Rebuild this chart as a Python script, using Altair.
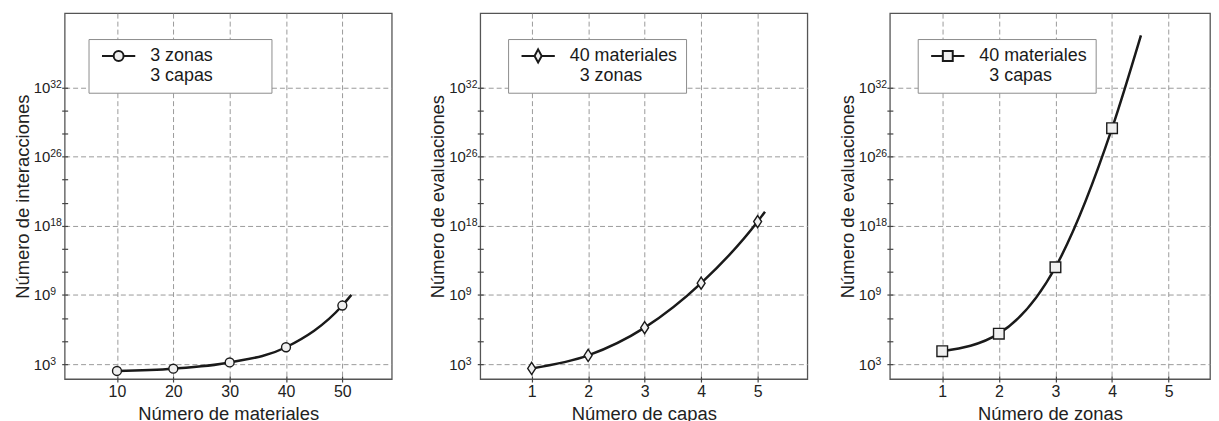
import json
import altair as alt
import pandas as pd

FONT = "Liberation Sans"
INK = "#1a1a1a"

# ---- data (y = position in axis units; 3 units per major grid step) ----
materiales = [10, 20, 30, 40, 50]
interacciones = [-0.30, -0.20, 0.07, 0.73, 2.54]
fin_materiales = [51.6]
fin_interacciones = [3.0]

capas = [1, 2, 3, 4, 5]
evaluaciones_capas = [-0.19, 0.375, 1.58, 3.51, 6.18]
fin_capas = [5.13]
fin_evaluaciones_capas = [6.61]

zonas = [1, 2, 3, 4]
evaluaciones_zonas = [0.56, 1.32, 4.20, 10.23]
fin_zonas = [4.51]
fin_evaluaciones_zonas = [14.26]

y_tick_base = "10"
y_tick_exponents = ["3", "9", "18", "26", "32"]
y_major_values = [0, 3, 6, 9, 12]
y_minor_values = list(range(0, 13))

NB = "\u00a0"   # no-break space
IS = "\u2063"   # invisible separator, keeps the spaces from being trimmed
serie1 = "3 zonas" + NB * 10 + IS + "|3 capas"
serie2 = "40 materiales|" + IS + NB * 2 + "3 zonas"
serie3 = "40 materiales|" + IS + NB * 2 + "3 capas"

exp_expr = json.dumps(y_tick_exponents) + "[round(datum.value / 3)]"
base_expr = "datum.value % 3 === 0 ? '" + y_tick_base + "' : ''"

# legend symbols: nominal 12px box (units of 6px), drawn to the right of it
CIRCLE_LEG = ("M-0.58,0H1.38M3.04,0H5"
              "M3.04,0A0.83,0.83 0 1 1 1.38,0A0.83,0.83 0 1 1 3.04,0Z")
DIAMOND_LEG = ("M-0.58,0H1.6M2.8,0H5"
               "M2.2,-1.1L2.8,0L2.2,1.1L1.6,0Z")
SQUARE_LEG = ("M-0.58,0H1.38M3.04,0H5"
              "M1.38,-0.83H3.04V0.83H1.38Z")
DIAMOND = "M0,-1L0.65,0L0,1L-0.65,0Z"


def panel(xs, ys, xe, ye, serie, xdomain, xticks, width, xtitle, ytitle,
          shape, size, leg_shape, leg_x):
    pts = pd.DataFrame({"x": xs, "y": ys, "serie": serie})
    curve = pd.DataFrame({"x": xs + xe, "y": ys + ye, "serie": serie})
    xscale = alt.Scale(domain=xdomain, nice=False, zero=False)
    yscale = alt.Scale(domain=[-0.65, 15.22], nice=False, zero=False)

    x_grid = alt.X("x:Q", scale=xscale,
                   axis=alt.Axis(orient="bottom", values=xticks, grid=True, ticks=False,
                                 tickSize=0, labels=False, domain=False, title=None,
                                 offset=0))
    y_grid = alt.Y("y:Q", scale=yscale,
                   axis=alt.Axis(orient="left", values=y_major_values, grid=True,
                                 ticks=False, tickSize=0, domain=False, title=None,
                                 offset=0, labelExpr=exp_expr, labelAlign="left",
                                 labelPadding=15, labelFontSize=10.5, labelOffset=-3))
    x_main = alt.X("x:Q", scale=xscale,
                   axis=alt.Axis(orient="bottom", values=xticks, grid=False, ticks=True,
                                 tickSize=6, domain=False, offset=-3, title=xtitle,
                                 labelFontSize=16, labelPadding=2, titlePadding=5))
    y_main = alt.Y("y:Q", scale=yscale,
                   axis=alt.Axis(orient="left", values=y_minor_values, grid=False,
                                 ticks=True, tickSize=6, domain=False, offset=-3,
                                 labelExpr=base_expr, labelAlign="right",
                                 labelPadding=12, labelFontSize=15,
                                 title=ytitle, titlePadding=1))

    legend = alt.Legend(orient="none", legendX=leg_x, legendY=26, title=None,
                        fillColor="white", strokeColor="#8c8c8c", padding=8,
                        symbolType=leg_shape, symbolSize=144,
                        symbolStrokeWidth=2, symbolStrokeColor=INK,
                        symbolFillColor="#eeeeee", symbolOpacity=1,
                        labelFont=FONT, labelFontSize=18, labelColor=INK,
                        labelOffset=36, labelLimit=400,
                        labelExpr="split(datum.label, '|')")
    color = alt.Color("serie:N", scale=alt.Scale(range=[INK]), legend=legend)

    line = alt.Chart(curve).mark_line(interpolate="monotone", strokeWidth=2.5,
                                      clip=True).encode(x=x_grid, y=y_grid, color=color)
    marks = alt.Chart(pts).mark_point(shape=shape, size=size, filled=False,
                                      fill="#f0f0f0", fillOpacity=1, opacity=1,
                                      strokeWidth=1.4).encode(x=x_main, y=y_main,
                                                              color=color)
    return alt.layer(line, marks).resolve_axis(x="independent", y="independent") \
        .properties(width=width, height=368)


p1 = panel(materiales, interacciones, fin_materiales, fin_interacciones, serie1,
           [0.72, 58.77], [10, 20, 30, 40, 50], 329,
           "Número de materiales", "Número de interacciones", "circle", 80,
           CIRCLE_LEG, 24)
p2 = panel(capas, evaluaciones_capas, fin_capas, fin_evaluaciones_capas, serie2,
           [0.09, 5.88], [1, 2, 3, 4, 5], 329,
           "Número de capas", "Número de evaluaciones", DIAMOND, 150, DIAMOND_LEG, 28)
p3 = panel(zonas, evaluaciones_zonas, fin_zonas, fin_evaluaciones_zonas, serie3,
           [0.075, 5.73], [1, 2, 3, 4, 5], 322,
           "Número de zonas", "Número de evaluaciones", "square", 114, SQUARE_LEG, 28)

chart = alt.hconcat(
    alt.hconcat(p1, p2, spacing=35).resolve_scale(color="independent"),
    p3, spacing=29
).resolve_scale(color="independent").properties(
    padding={"left": 4, "top": 3, "right": 0, "bottom": 0}
).configure_view(stroke="#555555", strokeWidth=1.3).configure_axis(
    tickColor="#444444", tickWidth=1.2,
    gridColor="#9a9a9a", gridDash=[5, 3], gridWidth=1,
    labelFont=FONT, labelColor="#222222",
    titleFont=FONT, titleFontSize=18.5, titleFontWeight="normal", titleColor="#222222"
)

chart.save("out.html", embed_options={"renderer": "svg", "actions": False})
